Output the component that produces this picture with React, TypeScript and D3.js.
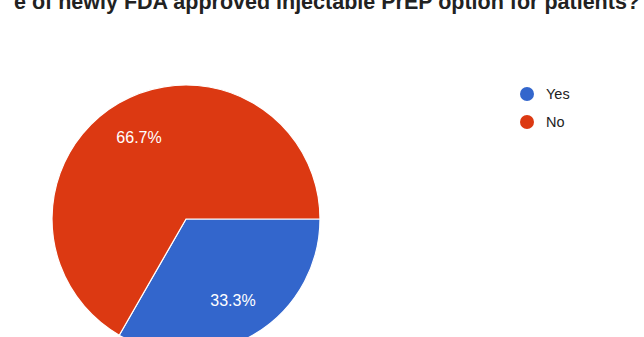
import React from "react";
import * as d3 from "d3";

const categories = ["Yes", "No"];
const values = [33.3, 66.7];
const colors = ["#3366cc", "#dc3912"];
const titleText = "e of newly FDA approved injectable PrEP option for patients?";

const W = 644;
const H = 337;

export default function App() {
  const cx = 186;
  const cy = 219;
  const r = 134;
  const startAngle = Math.PI / 2;
  const pie = d3
    .pie<number>()
    .sort(null)
    .startAngle(startAngle)
    .endAngle(startAngle + 2 * Math.PI)
    .value((d) => d);
  const arcs = pie(values);
  const arc = d3.arc<d3.PieArcDatum<number>>().innerRadius(0).outerRadius(r);
  const labelArc = d3
    .arc<d3.PieArcDatum<number>>()
    .innerRadius(r * 0.7)
    .outerRadius(r * 0.7);
  const color = d3.scaleOrdinal<string, string>().domain(categories).range(colors);
  const legendY = d3.scalePoint<string>().domain(categories).range([94, 122]);

  return (
    <svg
      width={W}
      height={H}
      style={{ position: "absolute", left: 0, top: 0, background: "#fff" }}
      fontFamily="'Liberation Sans', Arial, sans-serif"
    >
      <rect width={W} height={H} fill="#fff" />
      <text x={640} y={9} textAnchor="end" fontSize={21.5} fontWeight="bold" fill="#222">
        {titleText}
      </text>
      <g transform={`translate(${cx},${cy})`}>
        {arcs.map((a, i) => (
          <path key={i} d={arc(a) || ""} fill={color(categories[i])} stroke="#fff" strokeWidth={1.2} />
        ))}
        {arcs.map((a, i) => {
          const [x, y] = labelArc.centroid(a);
          return (
            <text
              key={"l" + i}
              x={x}
              y={y}
              textAnchor="middle"
              dominantBaseline="central"
              fontSize={16}
              fill="#fff"
            >
              {values[i].toFixed(1) + "%"}
            </text>
          );
        })}
      </g>
      {categories.map((c) => (
        <g key={c} transform={`translate(527,${legendY(c)})`}>
          <circle r={7} fill={color(c)} />
          <text x={19} y={0} dominantBaseline="central" fontSize={14.5} fill="#222">
            {c}
          </text>
        </g>
      ))}
    </svg>
  );
}
